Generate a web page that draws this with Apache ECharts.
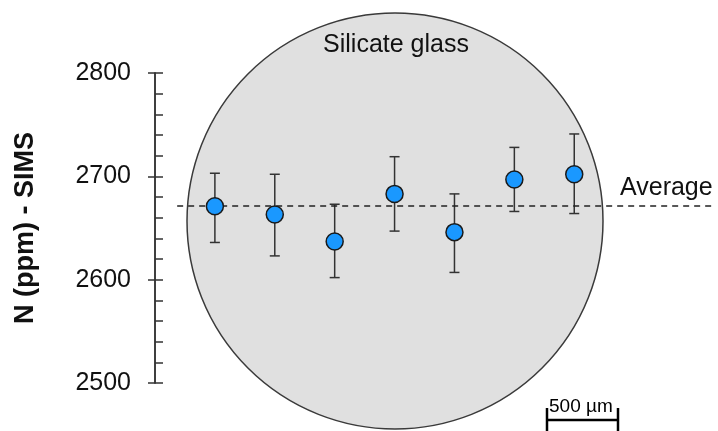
<!DOCTYPE html>
<html>
<head>
<meta charset="utf-8">
<script src="https://cdn.jsdelivr.net/npm/echarts@6/dist/echarts.min.js"></script>
<style>
  html, body { margin: 0; padding: 0; background: #fff; }
  #chart { width: 718px; height: 431px; }
</style>
</head>
<body>
<div id="chart"></div>
<script>
// spot positions along the glass (just an index) and SIMS values
const spots = [1, 2, 3, 4, 5, 6, 7];
const nValues = [2671, 2663, 2637, 2683, 2646, 2697, 2702];
const errLow = [2636, 2623, 2602, 2647, 2607, 2666, 2664];
const errHigh = [2703, 2702, 2673, 2719, 2683, 2728, 2741];
const average = 2672;
const yTicks = [2500, 2600, 2700, 2800];

const FONT = '"Liberation Sans", Arial, sans-serif';
const INK = '#333';

let chart = echarts.init(document.getElementById('chart'));

const option = {
    animation: false,
    textStyle: { fontFamily: FONT },
    grid: { left: 155, right: 6, top: 73, bottom: 48, outerBoundsMode: 'none', containLabel: false },
    graphic: [
        {
            type: 'circle',
            z: 0,
            shape: { cx: 395, cy: 221, r: 208 },
            style: { fill: '#e0e0e0', stroke: '#3a3a3a', lineWidth: 1.5 }
        },
        {
            type: 'text',
            z: 10,
            x: 396, y: 45,
            style: { text: 'Silicate glass', font: '25px ' + FONT, fill: '#111', textAlign: 'center', textVerticalAlign: 'middle' }
        },
        {
            type: 'text',
            z: 10,
            x: 620, y: 188,
            style: { text: 'Average', font: '25px ' + FONT, fill: '#111', textAlign: 'left', textVerticalAlign: 'middle' }
        },
        // scale bar
        {
            type: 'group',
            z: 10,
            children: [
                { type: 'line', shape: { x1: 547, y1: 420, x2: 618, y2: 420 }, style: { stroke: '#000', lineWidth: 2.5 } },
                { type: 'line', shape: { x1: 547, y1: 408, x2: 547, y2: 431 }, style: { stroke: '#000', lineWidth: 2.5 } },
                { type: 'line', shape: { x1: 618, y1: 408, x2: 618, y2: 431 }, style: { stroke: '#000', lineWidth: 2.5 } },
                { type: 'text', x: 549, y: 407, style: { text: '500 µm', font: '19px ' + FONT, fill: '#000', textAlign: 'left', textVerticalAlign: 'middle' } }
            ]
        }
    ],
    xAxis: {
        type: 'value',
        min: 0,
        max: 9.3,
        show: false
    },
    yAxis: [
        {
            type: 'value',
            min: yTicks[0],
            max: yTicks[yTicks.length - 1],
            interval: 100,
            name: 'N (ppm) - SIMS',
            nameLocation: 'middle',
            nameGap: 116,
            nameRotate: 90,
            nameTextStyle: { fontSize: 27, fontWeight: 'bold', color: '#111', fontFamily: FONT },
            axisLine: { show: true, lineStyle: { color: INK, width: 1.5 } },
            axisTick: { show: true, inside: false, length: 7, lineStyle: { color: INK, width: 1.5 } },
            axisLabel: { margin: 24, fontSize: 25, color: '#111', fontFamily: FONT, formatter: v => String(v) },
            splitLine: { show: false }
        },
        {
            type: 'value',
            position: 'left',
            offset: 0,
            min: yTicks[0],
            max: yTicks[yTicks.length - 1],
            interval: 100,
            axisLine: { show: true, onZero: false, lineStyle: { color: INK, width: 1.5 } },
            axisTick: { show: true, inside: true, length: 8, lineStyle: { color: INK, width: 1.5 } },
            minorTick: { show: true, splitNumber: 5, length: 8, lineStyle: { color: INK, width: 1.5 } },
            axisLabel: { show: false },
            splitLine: { show: false }
        }
    ],
    series: [
        {
            type: 'line',
            data: [],
            z: 3,
            markLine: {
                silent: true,
                symbol: 'none',
                label: { show: false },
                lineStyle: { type: [6, 5], color: '#222', width: 1.6 },
                data: [[{ coord: [0.37, average] }, { coord: [9.3, average] }]]
            }
        },
        {
            type: 'custom',
            z: 4,
            data: spots.map((s, i) => [s, errLow[i], errHigh[i]]),
            renderItem: function (params, api) {
                const lo = api.coord([api.value(0), api.value(1)]);
                const hi = api.coord([api.value(0), api.value(2)]);
                const cap = 5;
                const style = { stroke: INK, lineWidth: 1.5 };
                return {
                    type: 'group',
                    children: [
                        { type: 'line', shape: { x1: lo[0], y1: lo[1], x2: hi[0], y2: hi[1] }, style: style },
                        { type: 'line', shape: { x1: lo[0] - cap, y1: lo[1], x2: lo[0] + cap, y2: lo[1] }, style: style },
                        { type: 'line', shape: { x1: hi[0] - cap, y1: hi[1], x2: hi[0] + cap, y2: hi[1] }, style: style }
                    ]
                };
            }
        },
        {
            type: 'scatter',
            z: 5,
            symbol: 'circle',
            symbolSize: 17,
            itemStyle: { color: '#1a98ff', borderColor: '#1a1a1a', borderWidth: 1.5, opacity: 1 },
            data: spots.map((s, i) => [s, nValues[i]])
        }
    ]
};

chart.setOption(option);
</script>
</body>
</html>
